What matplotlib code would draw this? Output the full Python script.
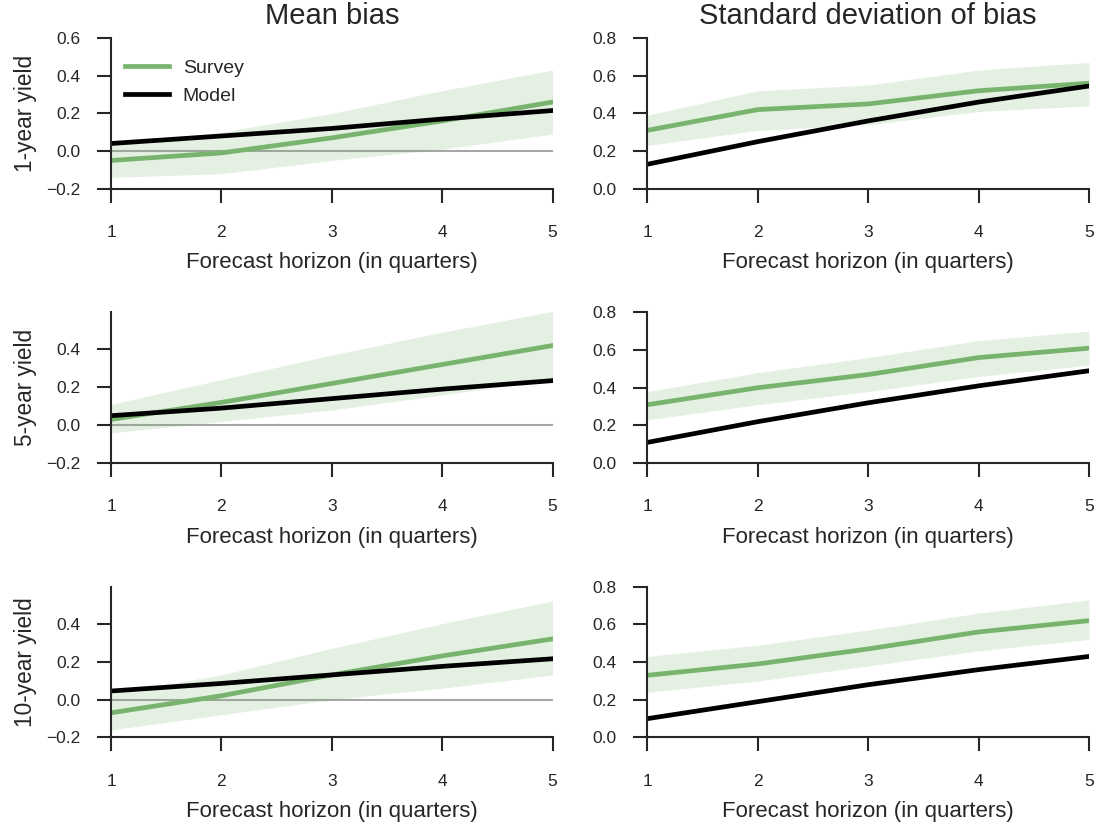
import matplotlib
matplotlib.use("Agg")
import matplotlib.pyplot as plt
import numpy as np

plt.rcParams['font.family'] = ['Liberation Sans', 'DejaVu Sans']
plt.rcParams['text.color'] = '#262626'
plt.rcParams['axes.labelcolor'] = '#262626'
plt.rcParams['xtick.color'] = '#262626'
plt.rcParams['ytick.color'] = '#262626'

horizon = [1, 2, 3, 4, 5]
yields = ['1-year yield', '5-year yield', '10-year yield']

# mean bias: survey, model, survey band (lower/upper)
mean_survey = [
    [-0.05, -0.01, 0.07, 0.16, 0.26],
    [0.03, 0.12, 0.22, 0.32, 0.42],
    [-0.07, 0.02, 0.13, 0.23, 0.32],
]
mean_model = [
    [0.04, 0.08, 0.12, 0.17, 0.215],
    [0.05, 0.09, 0.14, 0.19, 0.235],
    [0.045, 0.085, 0.13, 0.175, 0.215],
]
mean_lo = [
    [-0.14, -0.12, -0.05, 0.01, 0.09],
    [-0.04, 0.02, 0.08, 0.16, 0.24],
    [-0.16, -0.08, 0.00, 0.06, 0.13],
]
mean_hi = [
    [0.04, 0.10, 0.20, 0.32, 0.43],
    [0.11, 0.24, 0.37, 0.49, 0.60],
    [0.03, 0.13, 0.27, 0.40, 0.52],
]

# standard deviation of bias
std_survey = [
    [0.31, 0.42, 0.45, 0.52, 0.56],
    [0.31, 0.40, 0.47, 0.56, 0.61],
    [0.33, 0.39, 0.47, 0.56, 0.62],
]
std_model = [
    [0.13, 0.25, 0.36, 0.46, 0.545],
    [0.11, 0.22, 0.32, 0.41, 0.49],
    [0.10, 0.19, 0.28, 0.36, 0.43],
]
std_lo = [
    [0.23, 0.31, 0.34, 0.41, 0.44],
    [0.23, 0.31, 0.38, 0.46, 0.52],
    [0.24, 0.30, 0.38, 0.46, 0.52],
]
std_hi = [
    [0.39, 0.52, 0.55, 0.63, 0.67],
    [0.38, 0.48, 0.56, 0.65, 0.70],
    [0.43, 0.49, 0.57, 0.66, 0.73],
]

green = '#78b46e'

fig, axes = plt.subplots(3, 2, figsize=(10.95, 8.24), dpi=100)
fig.subplots_adjust(left=0.1014, right=0.9945, top=0.9539, bottom=0.105,
                    wspace=0.215, hspace=0.82)

for i in range(3):
    for j in range(2):
        ax = axes[i, j]
        if j == 0:
            s, m, lo, hi = mean_survey[i], mean_model[i], mean_lo[i], mean_hi[i]
        else:
            s, m, lo, hi = std_survey[i], std_model[i], std_lo[i], std_hi[i]

        if j == 0:
            ax.axhline(0, color='#a6a6a6', lw=1.5, zorder=1)
        ax.fill_between(horizon, lo, hi, color=green, alpha=0.2, lw=0, zorder=2)
        ax.plot(horizon, s, color=green, lw=3.4, label='Survey', zorder=3)
        ax.plot(horizon, m, color='black', lw=3.4, label='Model', zorder=4)

        ax.set_xlim(1, 5)
        ax.set_xticks(horizon)
        if j == 0:
            if i == 0:
                ax.set_ylim(-0.2, 0.6)
                ax.set_yticks([-0.2, 0.0, 0.2, 0.4, 0.6])
            else:
                ax.set_ylim(-0.2, 0.595)
                ax.set_yticks([-0.2, 0.0, 0.2, 0.4])
            ax.set_ylabel(yields[i], fontsize=16.3, labelpad=7)
        else:
            ax.set_ylim(0, 0.8)
            ax.set_yticks([0.0, 0.2, 0.4, 0.6, 0.8])
        ax.set_yticklabels(['%.1f' % v if v >= 0 else '\u2212%.1f' % -v
                            for v in ax.get_yticks()])

        ax.set_xlabel('Forecast horizon (in quarters)', fontsize=16, labelpad=9)
        ax.tick_params(length=10, width=1.5, labelsize=12.5)
        ax.tick_params(axis='x', pad=16)
        ax.tick_params(axis='y', pad=12)
        for side in ['top', 'right']:
            ax.spines[side].set_visible(False)
        for side in ['left', 'bottom']:
            ax.spines[side].set_linewidth(1.5)
            ax.spines[side].set_color('#262626')
            ax.spines[side].set_zorder(5)

axes[0, 0].set_title('Mean bias', fontsize=21, pad=10)
axes[0, 1].set_title('Standard deviation of bias', fontsize=21, pad=10)
axes[0, 0].legend(loc='upper left', frameon=False, fontsize=14,
                  handlelength=2.25, handletextpad=0.7, labelspacing=0.55,
                  borderaxespad=0.0, bbox_to_anchor=(0.015, 0.91))

fig.savefig('out.png', dpi=100)
